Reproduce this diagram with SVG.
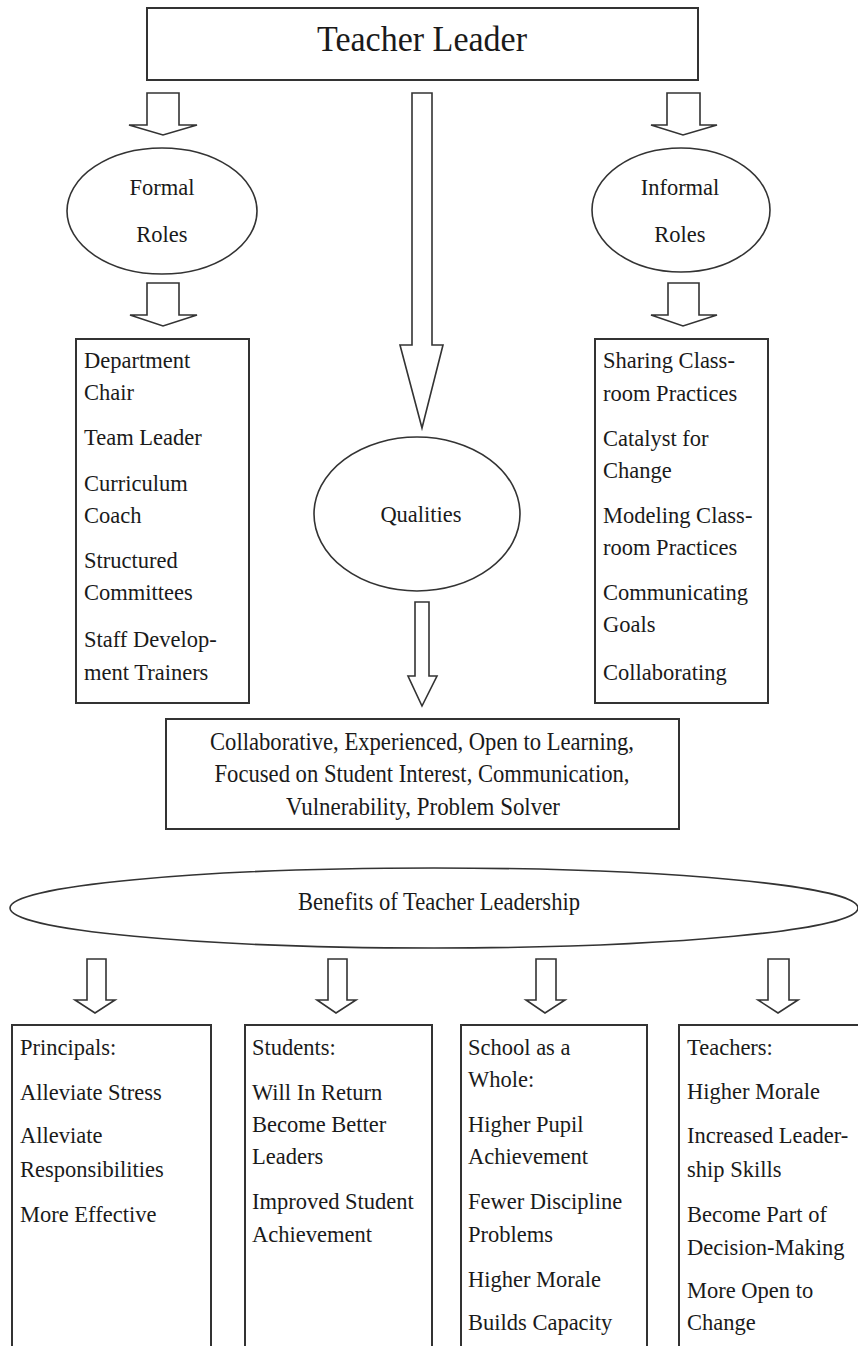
<svg xmlns="http://www.w3.org/2000/svg" width="858" height="1346" viewBox="0 0 858 1346">
<style>
.box{fill:#fff;stroke:#333;stroke-width:2}
.ell{fill:#fff;stroke:#333;stroke-width:1.6}
.arr{fill:#fff;stroke:#333;stroke-width:1.6;stroke-linejoin:miter}
text{font-family:"Liberation Serif","Times New Roman",serif;fill:#1a1a1a}
.t{font-size:22.5px}
.c{text-anchor:middle}
</style>
<rect width="858" height="1346" fill="#fff"/>
<g id="connectors">
<polygon class="arr" points="147,93 179,93 179,125 197,125 163,135 129,125 147,125"/>
<polygon class="arr" points="667,93 700,93 700,125 717,125 683,135 651,125 667,125"/>
<polygon class="arr" points="412,93 432,93 432,345 443,345 422,428 400,345 412,345"/>
<polygon class="arr" points="147,283 179,283 179,315 197,315 163,326 130,315 147,315"/>
<polygon class="arr" points="668,283 699,283 699,315 717,315 683,326 651,315 668,315"/>
<polygon class="arr" points="415,602 429,602 429,676 437,676 422,706 408,676 415,676"/>
<polygon class="arr" points="87,959 106,959 106,1000 115,1000 95,1013 75,1000 87,1000"/>
<polygon class="arr" points="328,959 347,959 347,1000 356,1000 336,1013 317,1000 328,1000"/>
<polygon class="arr" points="536,959 556,959 556,1000 565,1000 545,1013 526,1000 536,1000"/>
<polygon class="arr" points="768,959 789,959 789,1000 798,1000 778,1013 758,1000 768,1000"/>
</g>
<g id="teacher-leader">
<rect class="box" x="147" y="8" width="551" height="72"/>
<text x="422" y="51" class="c" font-size="36" textLength="210" lengthAdjust="spacingAndGlyphs">Teacher Leader</text>
</g>
<g id="formal-roles">
<ellipse class="ell" cx="162" cy="211" rx="95" ry="63"/>
<text class="t c" x="162" y="195">Formal</text>
<text class="t c" x="162" y="242">Roles</text>
</g>
<g id="informal-roles">
<ellipse class="ell" cx="681" cy="210" rx="89" ry="62"/>
<text class="t c" x="680" y="195">Informal</text>
<text class="t c" x="680" y="242">Roles</text>
</g>
<g id="qualities">
<ellipse class="ell" cx="417" cy="514" rx="103" ry="77"/>
<text class="t c" x="421" y="522">Qualities</text>
</g>
<g id="formal-list">
<rect class="box" x="76" y="339" width="173" height="364"/>
<text class="t" x="84" y="368">Department</text>
<text class="t" x="84" y="400">Chair</text>
<text class="t" x="84" y="445">Team Leader</text>
<text class="t" x="84" y="491">Curriculum</text>
<text class="t" x="84" y="523">Coach</text>
<text class="t" x="84" y="568">Structured</text>
<text class="t" x="84" y="600">Committees</text>
<text class="t" x="84" y="647">Staff Develop-</text>
<text class="t" x="84" y="680">ment Trainers</text>
</g>
<g id="informal-list">
<rect class="box" x="595" y="339" width="173" height="364"/>
<text class="t" x="603" y="368">Sharing Class-</text>
<text class="t" x="603" y="401">room Practices</text>
<text class="t" x="603" y="446">Catalyst for</text>
<text class="t" x="603" y="478">Change</text>
<text class="t" x="603" y="523">Modeling Class-</text>
<text class="t" x="603" y="555">room Practices</text>
<text class="t" x="603" y="600">Communicating</text>
<text class="t" x="603" y="632">Goals</text>
<text class="t" x="603" y="680">Collaborating</text>
</g>
<g id="qualities-list">
<rect class="box" x="166" y="719" width="513" height="110"/>
<text class="c" x="422" y="750" font-size="25" textLength="424" lengthAdjust="spacingAndGlyphs">Collaborative, Experienced, Open to Learning,</text>
<text class="c" x="422" y="782" font-size="25" textLength="415" lengthAdjust="spacingAndGlyphs">Focused on Student Interest, Communication,</text>
<text class="c" x="423" y="815" font-size="25" textLength="274" lengthAdjust="spacingAndGlyphs">Vulnerability, Problem Solver</text>
</g>
<g id="benefits">
<ellipse class="ell" cx="434" cy="908" rx="424" ry="40"/>
<text class="c" x="439" y="910" font-size="25" textLength="282" lengthAdjust="spacingAndGlyphs">Benefits of Teacher Leadership</text>
</g>
<g id="principals">
<rect class="box" x="12" y="1025" width="199" height="340"/>
<text class="t" x="20" y="1055">Principals:</text>
<text class="t" x="20" y="1100">Alleviate Stress</text>
<text class="t" x="20" y="1143">Alleviate</text>
<text class="t" x="20" y="1177">Responsibilities</text>
<text class="t" x="20" y="1222">More Effective</text>
</g>
<g id="students">
<rect class="box" x="245" y="1025" width="187" height="340"/>
<text class="t" x="252" y="1055">Students:</text>
<text class="t" x="252" y="1100">Will In Return</text>
<text class="t" x="252" y="1132">Become Better</text>
<text class="t" x="252" y="1164">Leaders</text>
<text class="t" x="252" y="1209">Improved Student</text>
<text class="t" x="252" y="1242">Achievement</text>
</g>
<g id="school">
<rect class="box" x="461" y="1025" width="186" height="340"/>
<text class="t" x="468" y="1055">School as a</text>
<text class="t" x="468" y="1087">Whole:</text>
<text class="t" x="468" y="1132">Higher Pupil</text>
<text class="t" x="468" y="1164">Achievement</text>
<text class="t" x="468" y="1209">Fewer Discipline</text>
<text class="t" x="468" y="1242">Problems</text>
<text class="t" x="468" y="1287">Higher Morale</text>
<text class="t" x="468" y="1330">Builds Capacity</text>
</g>
<g id="teachers">
<rect class="box" x="679" y="1025" width="200" height="340"/>
<text class="t" x="687" y="1055">Teachers:</text>
<text class="t" x="687" y="1099">Higher Morale</text>
<text class="t" x="687" y="1143">Increased Leader-</text>
<text class="t" x="687" y="1177">ship Skills</text>
<text class="t" x="687" y="1222">Become Part of</text>
<text class="t" x="687" y="1255">Decision-Making</text>
<text class="t" x="687" y="1298">More Open to</text>
<text class="t" x="687" y="1330">Change</text>
</g>
</svg>
